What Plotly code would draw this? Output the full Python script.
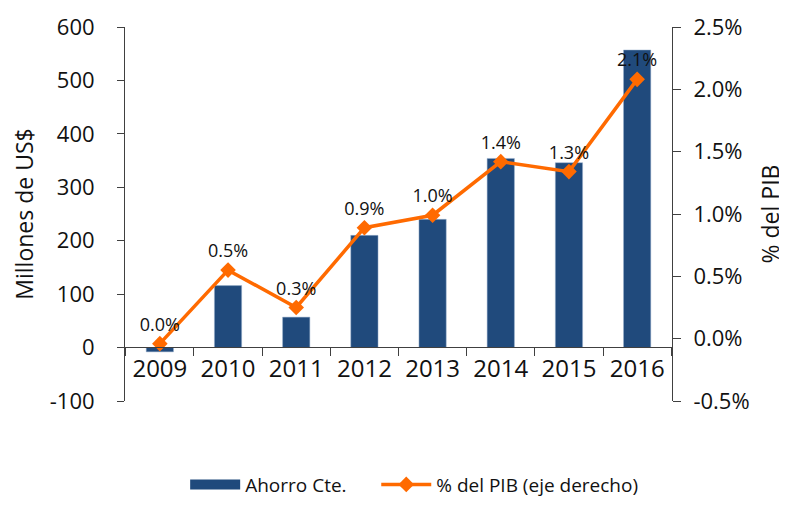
import plotly.graph_objects as go

years = ["2009", "2010", "2011", "2012", "2013", "2014", "2015", "2016"]
ahorro = [-8, 116, 57, 210, 240, 354, 346, 557]
pct_pib = [-0.0004, 0.0055, 0.0025, 0.0089, 0.0099, 0.0142, 0.0134, 0.0208]
pct_labels = ["0.0%", "0.5%", "0.3%", "0.9%", "1.0%", "1.4%", "1.3%", "2.1%"]
left_ticks = [-100, 0, 100, 200, 300, 400, 500, 600]
left_ticktext = ["-100", "0", "100", "200", "300", "400", "500", "600"]
right_ticks = [-0.005, 0.0, 0.005, 0.01, 0.015, 0.02, 0.025]
right_ticktext = ["-0.5%", "0.0%", "0.5%", "1.0%", "1.5%", "2.0%", "2.5%"]

FONT = "Open Sans"
AX = "#404040"
BLUE = "#204A7C"
ORANGE = "#FF6A00"
PAD = "\u00a0" * 5

fig = go.Figure()
fig.add_trace(go.Bar(
    x=years, y=ahorro, name="Ahorro Cte.",
    marker=dict(color=BLUE, line=dict(color="#9DB3CF", width=0.5)),
    width=0.4, yaxis="y", showlegend=False,
))
# legend-only entry so the bar key is drawn as a wide block
fig.add_trace(go.Scatter(
    x=[None], y=[None], name="Ahorro Cte." + PAD, mode="lines",
    line=dict(color=BLUE, width=14), yaxis="y",
))
fig.add_trace(go.Scatter(
    x=years, y=pct_pib, name="% del PIB (eje derecho)",
    mode="lines+markers+text", yaxis="y2",
    line=dict(color=ORANGE, width=3.5),
    marker=dict(symbol="diamond", size=12, color=ORANGE),
    text=pct_labels, textposition="top center",
    textfont=dict(size=18, color="#111111", family=FONT),
    cliponaxis=False,
))

fig.update_layout(
    width=787, height=507,
    margin=dict(l=117, r=123, t=19, b=105),
    paper_bgcolor="white", plot_bgcolor="white",
    font=dict(family=FONT, color="#111111"),
    xaxis=dict(
        type="category", anchor="free", position=55/383,
        showline=True, linecolor=AX, linewidth=1,
        ticks="outside", ticklen=8, tickcolor=AX,
        tickson="boundaries", tickfont=dict(size=24),
        showgrid=False, zeroline=False, automargin=False,
    ),
    yaxis=dict(
        range=[-100, 600], tickvals=left_ticks, ticktext=left_ticktext,
        showline=True, linecolor=AX, linewidth=1,
        ticks="outside", ticklen=7, tickcolor=AX, ticklabelstandoff=18,
        tickfont=dict(size=22), showgrid=False, zeroline=False,
        automargin=False,
        title=dict(text="Millones de US$", font=dict(size=23), standoff=14),
    ),
    yaxis2=dict(
        range=[-0.005, 0.025], tickvals=right_ticks, ticktext=right_ticktext,
        overlaying="y", side="right",
        showline=True, linecolor=AX, linewidth=1,
        ticks="outside", ticklen=8, tickcolor=AX, ticklabelstandoff=8,
        tickfont=dict(size=22), showgrid=False, zeroline=False,
        automargin=False,
        title=dict(text="% del PIB", font=dict(size=23), standoff=14),
    ),
    legend=dict(
        orientation="h", x=0.11, y=-(507 - 402) / 383, xanchor="left",
        yanchor="bottom", font=dict(size=19), traceorder="normal",
        itemwidth=50,
    ),
    showlegend=True,
)

fig.write_html("out.html")
